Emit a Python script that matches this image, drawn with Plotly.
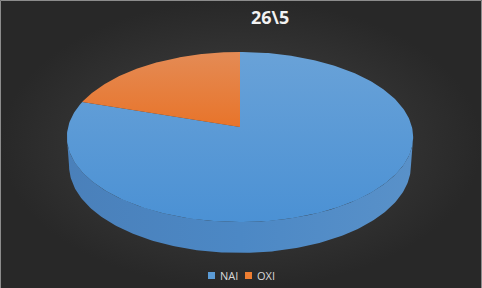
import numpy as np
import plotly.graph_objects as go

# ---- data ----
labels = ["NAI", "OXI"]
values = [80, 20]
title_text = "26\\5"

# ---- style ----
top_grad = {"NAI": ["#69a2d8", "#4b91d4"], "OXI": ["#e48b55", "#e8742a"]}
legend_col = {"NAI": "#5b9bd5", "OXI": "#ed7d31"}
side_scale = [[0, "#4a80ba"], [0.5, "#4c88c5"], [1, "#5991c9"]]

W, H = 482, 288
CX, CY = 240, 127          # projected pie centre in px
TILT = np.radians(29.2)
DIST = 7.41
FOCAL = 1274
THICK = 0.192
START = np.pi / 2          # first slice starts at 12 o'clock, clockwise


def project(theta, z):
    X, Y = np.cos(theta), np.sin(theta)
    s, c = np.sin(TILT), np.cos(TILT)
    u = Y * s + z * c
    w = DIST + Y * c - z * s
    return CX + FOCAL * X / w, CY - FOCAL * u / w


fig = go.Figure()

# background (radial gradient)
fig.add_trace(go.Scatter(
    x=[0, W, W, 0, 0], y=[0, 0, H, H, 0], mode="lines", fill="toself",
    line=dict(width=0), fillgradient=dict(type="radial", colorscale=[[0, "#454545"], [1, "#282828"]]),
    hoverinfo="skip", showlegend=False))

total = float(sum(values))
fr = np.cumsum([0] + values) / total
ranges = [(START - 2 * np.pi * fr[i], START - 2 * np.pi * fr[i + 1]) for i in range(len(values))]

# visible front wall limits (leftmost / rightmost silhouette points)
samp = np.linspace(np.pi - 0.5, 2 * np.pi + 0.5, 2000)
xt, _ = project(samp, 0.0)
xb, _ = project(samp, -THICK)
tL, tR = samp[np.argmin(xt)], samp[np.argmax(xt)]
bL, bR = samp[np.argmin(xb)], samp[np.argmax(xb)]

# side walls
for lab, (a_start, a_end) in zip(labels, ranges):
    lo, hi = min(a_start, a_end), max(a_start, a_end)
    for k in (-1, 0, 1):
        l2, h2 = lo + 2 * np.pi * k, hi + 2 * np.pi * k
        a0, a1 = max(l2, min(tL, bL)), min(h2, max(tR, bR))
        if a1 <= a0:
            continue
        th = np.linspace(a0, a1, 200)
        tt = np.clip(th, tL, tR)
        tb = np.clip(th, bL, bR)
        x1, y1 = project(tt, 0.0)
        x2, y2 = project(tb[::-1], -THICK)
        fig.add_trace(go.Scatter(
            x=np.concatenate([x1, x2, x1[:1]]), y=np.concatenate([y1, y2, y1[:1]]),
            mode="lines", fill="toself", line=dict(width=0),
            fillgradient=dict(type="horizontal", colorscale=side_scale),
            hoverinfo="skip", showlegend=False))

# top faces
for lab, (a_start, a_end) in zip(labels, ranges):
    th = np.linspace(a_start, a_end, 300)
    px, py = project(th, 0.0)
    x = np.concatenate([[CX], px, [CX]])
    y = np.concatenate([[CY], py, [CY]])
    c1, c2 = top_grad[lab]
    fig.add_trace(go.Scatter(
        x=x, y=y, mode="lines", fill="toself", line=dict(width=0),
        fillgradient=dict(type="vertical", colorscale=[[0, c2], [1, c1]]),
        name=lab, hoverinfo="name", showlegend=False))

# legend (manual, Excel style)
shapes = []
annotations = []
lx = 208
for lab in labels:
    shapes.append(dict(type="rect", xref="x", yref="y", x0=lx, x1=lx + 7, y0=272, y1=279,
                       fillcolor=legend_col[lab], line=dict(width=0)))
    annotations.append(dict(x=lx + 10, y=275.5, xref="x", yref="y", text=lab, showarrow=False,
                            xanchor="left", yanchor="middle",
                            font=dict(family="Open Sans", size=11, color="#d9d9d9")))
    lx += 37

annotations.append(dict(x=270, y=17, xref="x", yref="y", text=title_text, showarrow=False,
                        xanchor="center", yanchor="middle",
                        font=dict(family="Open Sans", size=18, color="#f2f2f2", weight="bold")))

shapes.append(dict(type="path", xref="x", yref="y", path=f"M0.5,{H} L0.5,0.5 L{W-0.5},0.5 L{W-0.5},{H}",
                   line=dict(color="#8c8c8c", width=1)))

fig.update_layout(
    width=W, height=H, margin=dict(l=0, r=0, t=0, b=0),
    paper_bgcolor="#363636", plot_bgcolor="rgba(0,0,0,0)",
    xaxis=dict(range=[0, W], visible=False, fixedrange=True),
    yaxis=dict(range=[H, 0], visible=False, fixedrange=True),
    shapes=shapes, annotations=annotations, showlegend=False,
)

fig.write_html("out.html")
